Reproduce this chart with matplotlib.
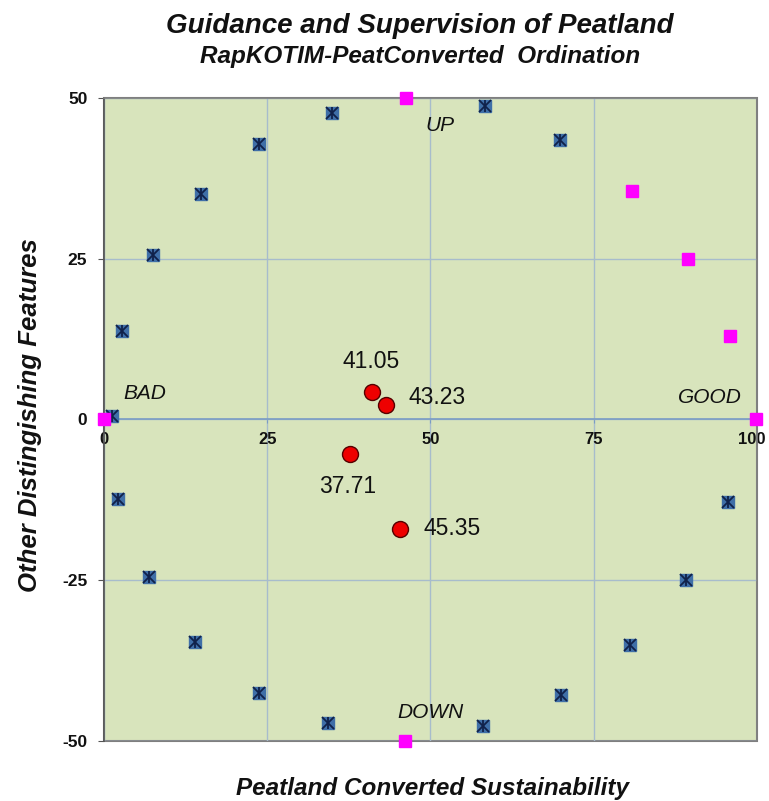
import matplotlib
matplotlib.use("Agg")
import matplotlib.pyplot as plt
import matplotlib.transforms as mtransforms

# ---- data ----
ref_x = [0, 46.2, 80.9, 89.5, 95.8, 99.8, 46.1]
ref_y = [0, 50.0, 35.6, 25.0, 13.0, 0, -50.0]

anchor_x = [1.3, 2.7, 7.5, 14.8, 23.8, 34.9, 58.3, 69.8,
            2.2, 6.9, 13.9, 23.8, 34.3, 58.1, 70.0, 80.6, 89.2, 95.5]
anchor_y = [0.5, 13.7, 25.6, 35.0, 42.9, 47.7, 48.7, 43.5,
            -12.4, -24.5, -34.6, -42.6, -47.2, -47.6, -42.8, -35.1, -25.0, -12.9]

score_x = [41.05, 43.23, 37.71, 45.35]
score_y = [4.3, 2.2, -5.3, -17.0]
score_labels = ["41.05", "43.23", "37.71", "45.35"]

corner_labels = ["UP", "BAD", "GOOD", "DOWN"]
corner_x = [49.2, 2.9, 87.9, 44.9]
corner_y = [45.7, 4.0, 3.4, -45.6]

xticks = [0, 25, 50, 75, 100]
yticks = [-50, -25, 0, 25, 50]

title = "Guidance and Supervision of Peatland"
subtitle = "RapKOTIM-PeatConverted  Ordination"
xlabel = "Peatland Converted Sustainability"
ylabel = "Other Distingishing Features"

plt.rcParams['font.family'] = ['Liberation Sans', 'DejaVu Sans']

fig = plt.figure(figsize=(7.69, 8.01), dpi=100)
ax = fig.add_axes([0.1352, 0.0749, 0.8492, 0.8028])
ax.set_xlim(0, 100)
ax.set_ylim(-50, 50)
ax.patch.set_facecolor('#d8e4bc')
ax.patch.set_edgecolor('#7f7f7f')
ax.patch.set_linewidth(1.5)

ax.set_xticks(xticks)
ax.set_yticks(yticks)
ax.grid(True, color='#a7bccc', linewidth=1.0)
ax.set_axisbelow(True)

for s in ['top', 'right']:
    ax.spines[s].set_color('#7f7f7f')
    ax.spines[s].set_linewidth(1.2)
ax.spines['left'].set_color('#555555')
ax.spines['left'].set_linewidth(1.2)
ax.spines['bottom'].set_position(('data', 0))
ax.spines['bottom'].set_color('#7a9cc4')
ax.spines['bottom'].set_linewidth(1.2)

ax.tick_params(axis='y', direction='out', length=4, color='#555555', pad=8)
ax.tick_params(axis='x', direction='out', length=3, color='#7a9cc4', pad=6)
ax.set_xticklabels([str(v) for v in xticks], fontsize=12, fontweight='bold', color='#111111')
ax.set_yticklabels([str(v) for v in yticks], fontsize=12.5, fontweight='bold', color='#111111')

# nudge the last x tick label so it stays inside the figure
last = ax.get_xticklabels()[-1]
last.set_transform(last.get_transform() +
                   mtransforms.ScaledTranslation(-5 / 100, 0, fig.dpi_scale_trans))

# anchor points (star markers)
ax.plot(anchor_x, anchor_y, linestyle='none', marker='s', markersize=8.5,
        markerfacecolor='#3f6fa8', markeredgecolor='#3f6fa8', zorder=3)
ax.plot(anchor_x, anchor_y, linestyle='none', marker='x', markersize=8,
        markeredgecolor='#10214a', markeredgewidth=1.3, zorder=4)
ax.plot(anchor_x, anchor_y, linestyle='none', marker='|', markersize=9,
        markeredgecolor='#10214a', markeredgewidth=1.3, zorder=4)

# reference points
ax.plot(ref_x, ref_y, linestyle='none', marker='s', markersize=9,
        markerfacecolor='#ff00ff', markeredgecolor='#ff00ff', zorder=5, clip_on=False)

# scores
ax.plot(score_x, score_y, linestyle='none', marker='o', markersize=11.5,
        markerfacecolor='#ee0000', markeredgecolor='#550000', markeredgewidth=1.0, zorder=6)

offsets = [(-1, 22, 'center'), (16, 6, 'left'),
           (-2, -24, 'center'), (16.5, 0, 'left')]
for x, y, t, (dx, dy, ha) in zip(score_x, score_y, score_labels, offsets):
    ax.annotate(t, (x, y), xytext=(dx, dy), textcoords='offset points',
                ha=ha, va='center', fontsize=16.5, color='#111111', zorder=7)

for t, x, y in zip(corner_labels, corner_x, corner_y):
    ax.text(x, y, t, fontsize=15, fontstyle='italic', color='#111111',
            ha='left', va='center', zorder=7)

fig.text(0.546, 0.9588, title, ha='center', va='baseline', fontsize=20,
         fontweight='bold', fontstyle='italic', color='#111111')
fig.text(0.546, 0.9213, subtitle, ha='center', va='baseline', fontsize=17.5,
         fontweight='bold', fontstyle='italic', color='#111111')
fig.text(0.562, 0.007, xlabel, ha='center', va='baseline', fontsize=17.5,
         fontweight='bold', fontstyle='italic', color='#111111')
fig.text(0.039, 0.482, ylabel, ha='center', va='center', fontsize=18.5,
         fontweight='bold', fontstyle='italic', color='#111111', rotation=90)

fig.savefig('out.png', dpi=100, facecolor='white')
